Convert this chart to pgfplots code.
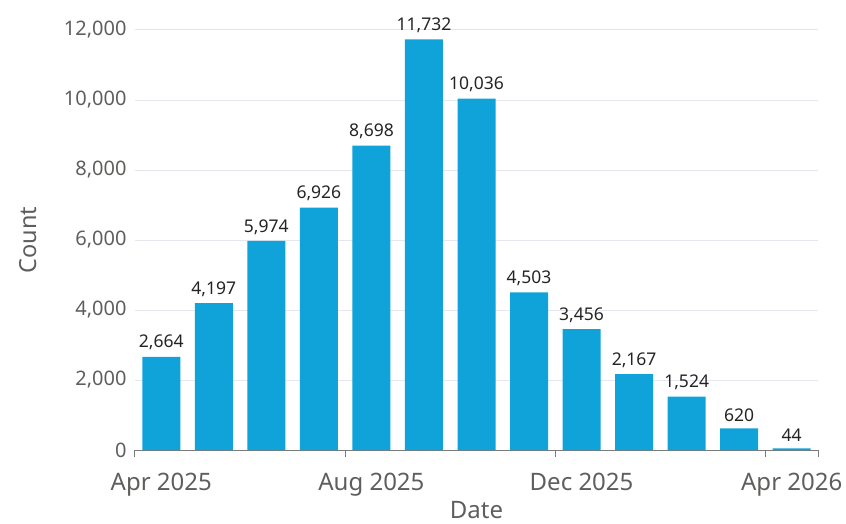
\documentclass[border=0pt]{standalone}
\usepackage{pgfplots}
\pgfplotsset{compat=1.18}
\usepackage{fontspec}
\setmainfont{Noto Sans}
\definecolor{barc}{HTML}{0FA3D9}
\definecolor{tickc}{HTML}{605E5C}
\definecolor{labc}{HTML}{252423}
\definecolor{gridc}{HTML}{E4E7F0}
\definecolor{axc}{HTML}{7A7A7A}
\begin{document}
\begin{tikzpicture}
\useasboundingbox (-135pt,-73pt) rectangle (711pt,450pt);
\begin{axis}[
  scale only axis,
  width=683pt, height=420pt,
  xmin=0, xmax=13, ymin=0, ymax=12000,
  axis x line*=bottom, axis y line*=left,
  y axis line style={draw=none},
  x axis line style={draw=axc, line width=1pt},
  ytick={0,2000,4000,6000,8000,10000,12000},
  scaled y ticks=false,
  ymajorgrids,
  grid style={draw=gridc, line width=1pt},
  ytick style={draw=none},
  yticklabel style={font=\fontsize{20}{24}\selectfont, text=tickc, xshift=-5pt, /pgf/number format/fixed},
  /pgf/number format/assume math mode=true,
  /pgf/number format/1000 sep={,},
  xtick={0.5,4.5,8.5,12.5},
  xticklabels={Apr 2025,Aug 2025,Dec 2025,Apr 2026},
  xtick style={draw=none},
  xticklabel style={font=\fontsize{24}{28}\selectfont, text=tickc, anchor=base, yshift=-36pt},
  extra x ticks={0,4,8,12,13},
  extra x tick labels={},
  extra x tick style={grid=none, xtick style={draw=axc, line width=1pt}, major tick length=7pt, tick align=outside},
  every axis x label/.style={at={(axis description cs:0.5,0)}, anchor=base, inner sep=0.5pt, yshift=-68pt, font=\fontsize{24}{26}\selectfont, text=tickc},
  every axis y label/.style={at={(axis description cs:0,0.5)}, xshift=-107pt, rotate=90, anchor=center, font=\fontsize{23.5}{28}\selectfont, text=tickc},
  xlabel={Date},
  ylabel={Count},
  ybar, bar width=38pt,
  nodes near coords,
  every node near coord/.append style={font=\fontsize{17.5}{21}\selectfont, text=labc, anchor=south, yshift=3pt, /pgf/number format/1000 sep={,}},
]
\addplot[fill=barc, draw=none] coordinates {
(0.5,2664) (1.5,4197) (2.5,5974) (3.5,6926) (4.5,8698) (5.5,11732) (6.5,10036)
(7.5,4503) (8.5,3456) (9.5,2167) (10.5,1524) (11.5,620) (12.5,44)
};
\end{axis}
\end{tikzpicture}
\end{document}
